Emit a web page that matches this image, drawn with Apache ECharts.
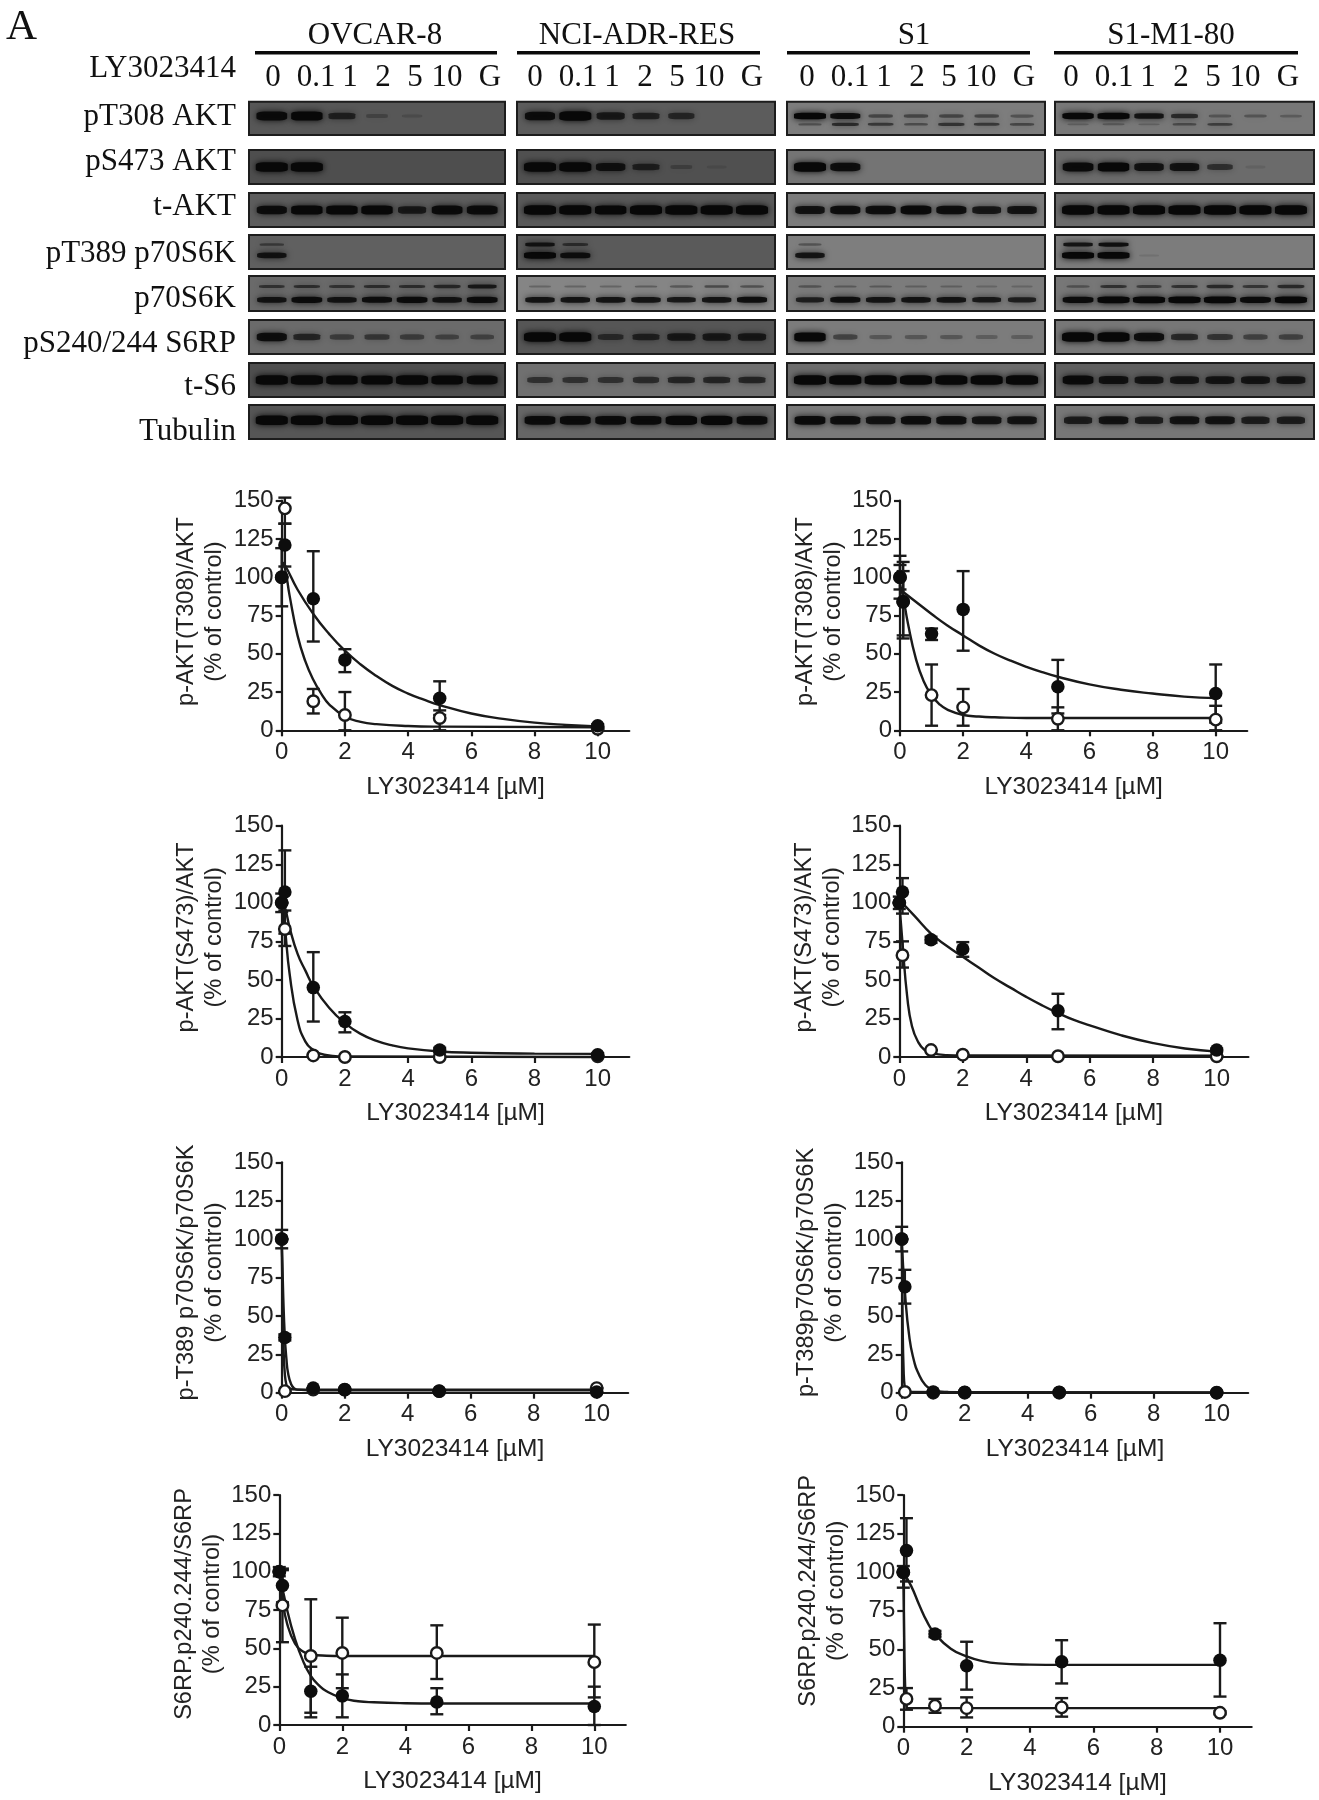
<!DOCTYPE html>
<html>
<head>
<meta charset="utf-8">
<title>LY3023414 blots and dose response</title>
<script src="https://cdn.jsdelivr.net/npm/echarts@6/dist/echarts.min.js"></script>
<style>
  html, body { margin: 0; padding: 0; background: #fff; }
  #chart { width: 1319px; height: 1800px; }
</style>
</head>
<body>
<div id="chart"></div>
<script>
// blot labels
const cellLines = ['OVCAR-8', 'NCI-ADR-RES', 'S1', 'S1-M1-80']
const laneLabels = ['0', '0.1', '1', '2', '5', '10', 'G']
const blotRows = ['pT308 AKT', 'pS473 AKT', 't-AKT', 'pT389 p70S6K', 'p70S6K', 'pS240/244 S6RP', 't-S6', 'Tubulin']

// band darkness per lane, read by eye (0 = no band, 1 = black)
const ovcarBands = [
  [0.9, 0.95, 0.6, 0.2, 0.1, 0, 0],
  [1, 1, 0, 0, 0, 0, 0],
  [0.85, 0.95, 0.95, 0.95, 0.7, 0.9, 0.9],
  [0.8, 0, 0, 0, 0, 0, 0],
  [0.8, 0.9, 0.8, 0.85, 0.9, 0.8, 0.9],
  [0.85, 0.6, 0.4, 0.45, 0.4, 0.35, 0.35],
  [1, 1, 0.95, 0.95, 1, 0.95, 0.9],
  [1, 1, 1, 1, 1, 1, 1]
]
const nciBands = [
  [0.85, 1, 0.7, 0.6, 0.55, 0, 0],
  [1, 1, 0.8, 0.6, 0.2, 0.05, 0],
  [1, 1, 0.95, 1, 1, 1, 1],
  [1, 0.85, 0, 0, 0, 0, 0],
  [0.8, 0.8, 0.8, 0.8, 0.75, 0.8, 0.85],
  [1, 1, 0.5, 0.6, 0.7, 0.7, 0.7],
  [0.5, 0.5, 0.5, 0.55, 0.6, 0.6, 0.6],
  [0.9, 0.9, 0.9, 0.9, 0.95, 0.95, 0.9]
]
const s1Bands = [
  [1, 0.85, 0.4, 0.4, 0.4, 0.4, 0.3],
  [1, 0.85, 0, 0, 0, 0, 0],
  [0.8, 0.85, 0.85, 0.9, 0.85, 0.75, 0.8],
  [0.8, 0, 0, 0, 0, 0, 0],
  [0.7, 0.85, 0.8, 0.8, 0.8, 0.75, 0.7],
  [0.95, 0.4, 0.25, 0.25, 0.25, 0.2, 0.2],
  [1, 1, 1, 1, 1, 1, 1],
  [0.9, 0.85, 0.8, 0.85, 0.85, 0.8, 0.8]
]
const m1Bands = [
  [0.95, 1, 0.8, 0.6, 0.25, 0.25, 0.2],
  [0.9, 0.95, 0.8, 0.8, 0.5, 0.05, 0],
  [1, 1, 1, 1, 1, 1, 1],
  [1, 1, 0.05, 0, 0, 0, 0],
  [0.9, 1, 1, 1, 1, 0.9, 1],
  [1, 1, 0.85, 0.6, 0.5, 0.4, 0.4],
  [0.9, 0.8, 0.75, 0.75, 0.75, 0.75, 0.75],
  [0.7, 0.8, 0.7, 0.8, 0.8, 0.7, 0.7]
]
// second band in the rows that have one: { row index: darkness per lane }
const ovcarExtra = { 3: [0.4, 0, 0, 0, 0, 0, 0], 4: [0.5, 0.55, 0.5, 0.55, 0.55, 0.6, 0.75] }
const nciExtra = { 3: [0.8, 0.5, 0, 0, 0, 0, 0], 4: [0.2, 0.2, 0.2, 0.25, 0.3, 0.4, 0.35] }
const s1Extra = { 0: [0.3, 0.6, 0.5, 0.35, 0.55, 0.5, 0.4], 3: [0.3, 0, 0, 0, 0, 0, 0], 4: [0.3, 0.25, 0.25, 0.2, 0.2, 0.15, 0.15] }
const m1Extra = { 0: [0.15, 0.2, 0.15, 0.35, 0.45, 0, 0], 3: [0.8, 0.85, 0, 0, 0, 0, 0], 4: [0.3, 0.55, 0.45, 0.55, 0.6, 0.5, 0.6] }

// dose response, x positions shared by all points
const doses = [0, 0.1, 1, 2, 5, 10]
const doseTicks = [0, 2, 4, 6, 8, 10]

// panel 1: p-AKT(T308), left
const t308LeftFilled = [100, 121, 86, 46, 21, 3]
const t308LeftFilledHi = [119, 135, 117, 53, 32, 4]
const t308LeftFilledLo = [81, 107, 58, 38, 10, 2]
const t308LeftOpen = [100, 145, 19, 10, 8, 1]
const t308LeftOpenHi = [100, 152, 27, 25, 13, 2]
const t308LeftOpenLo = [100, 135, 11, 0, 0, 0]
const t308LeftFilledFit = [[0, 110], [0.1, 108], [0.5, 92], [1, 76], [1.5, 63], [2, 52], [2.5, 43], [3, 35.5], [3.5, 29], [4, 24], [4.5, 20], [5, 16.5], [6, 11], [7, 7.5], [8, 5], [9, 3.5], [10, 2.5]]
const t308LeftOpenFit = [[0, 110], [0.1, 106], [0.25, 88], [0.5, 62], [0.75, 45], [1, 33], [1.25, 24], [1.5, 17], [2, 9], [2.5, 5.5], [3, 4], [4, 2.8], [5, 2.4], [10, 2]]

// panel 2: p-AKT(T308), right
const t308RightFilled = [100, 84, 63, 79, 28.5, 24]
const t308RightFilledHi = [114, 110, 66.5, 104, 46, 43]
const t308RightFilledLo = [86, 60, 59, 52, 11, 5]
const t308RightOpen = [100, 84, 23, 15, 7.5, 7]
const t308RightOpenHi = [108, 104, 43, 27, 15, 16]
const t308RightOpenLo = [92, 62, 3, 3, 0, 0]
const t308RightFilledFit = [[0, 92], [0.5, 84], [1, 76], [1.5, 68.5], [2, 62], [2.5, 55.5], [3, 50], [3.5, 45.5], [4, 41.5], [4.5, 38], [5, 35], [6, 30], [7, 26.5], [8, 24], [9, 22], [10, 21]]
const t308RightOpenFit = [[0, 95], [0.1, 87], [0.25, 70], [0.5, 47], [0.75, 32], [1, 23], [1.25, 17], [1.5, 13.5], [2, 10], [2.5, 9], [3, 8.5], [4, 8], [5, 8], [10, 8]]

// panel 3: p-AKT(S473), left
const s473LeftFilled = [100, 107, 45, 23, 4.5, 1.5]
const s473LeftFilledHi = [106, 134, 68, 29, 6, 2.5]
const s473LeftFilledLo = [94, 80, 23, 16, 3, 0.5]
const s473LeftOpen = [100, 83, 1, 0, 0, 0.5]
const s473LeftOpenHi = [100, 95, 1, 0, 0, 0.5]
const s473LeftOpenLo = [100, 72, 1, 0, 0, 0.5]
const s473LeftFilledFit = [[0, 100], [0.1, 97], [0.25, 84], [0.5, 67], [0.75, 56], [1, 46], [1.5, 32], [2, 22], [2.5, 15], [3, 10.5], [3.5, 7.5], [4, 5.6], [5, 3.6], [6, 2.8], [8, 2.2], [10, 2]]
const s473LeftOpenFit = [[0, 100], [0.1, 84], [0.25, 54], [0.5, 24], [0.75, 10], [1, 4.5], [1.25, 2], [1.5, 1], [2, 0.3], [10, 0]]

// panel 4: p-AKT(S473), right
const s473RightFilled = [100, 107, 76, 70, 30, 4.5]
const s473RightFilledHi = [104, 116, 78, 74.5, 41, 5.5]
const s473RightFilledLo = [96, 93, 74, 65, 18, 3.5]
const s473RightOpen = [100, 66, 4.5, 1.5, 0.5, 0.5]
const s473RightOpenHi = [100, 75, 4.5, 1.5, 0.5, 0.5]
const s473RightOpenLo = [100, 58, 4.5, 1.5, 0.5, 0.5]
const s473RightFilledFit = [[0, 102], [0.5, 91], [1, 80], [1.5, 72], [2, 65], [2.5, 58], [3, 51], [3.5, 45], [4, 39], [4.5, 33.5], [5, 28.5], [5.5, 24], [6, 20.5], [7, 14], [8, 9], [9, 5.5], [10, 3.5]]
const s473RightOpenFit = [[0, 100], [0.1, 74], [0.25, 39], [0.4, 20], [0.6, 9.5], [0.8, 4.5], [1, 2.5], [1.5, 1.2], [2, 1], [10, 0.8]]

// panel 5: p-T389 p70S6K, left
const t389LeftFilled = [100, 36, 3, 2, 1, 0.5]
const t389LeftFilledHi = [106, 38, 3, 2, 1, 0.5]
const t389LeftFilledLo = [94, 34, 3, 2, 1, 0.5]
const t389LeftOpen = [100, 1, 2, 2, 1, 3]
const t389LeftOpenHi = [100, 1, 2, 2, 1, 3]
const t389LeftOpenLo = [100, 1, 2, 2, 1, 3]
const t389LeftFilledFit = [[0, 100], [0.05, 62], [0.1, 36], [0.15, 22], [0.2, 13], [0.3, 5.5], [0.4, 2.8], [0.5, 2], [1, 1.5], [10, 1.5]]
const t389LeftOpenFit = [[0, 100], [0.03, 55], [0.06, 28], [0.1, 12], [0.15, 5], [0.2, 3], [0.5, 2], [10, 2]]

// panel 6: p-T389 p70S6K, right
const t389RightFilled = [100, 69, 0.5, 0.3, 0.3, 0]
const t389RightFilledHi = [108, 80, 0.5, 0.3, 0.3, 0]
const t389RightFilledLo = [92, 58, 0.5, 0.3, 0.3, 0]
const t389RightOpen = [100, 0.5, 0, 0, 0, 0]
const t389RightOpenHi = [100, 0.5, 0, 0, 0, 0]
const t389RightOpenLo = [100, 0.5, 0, 0, 0, 0]
const t389RightFilledFit = [[0, 100], [0.1, 66], [0.25, 35], [0.4, 20], [0.5, 14], [0.75, 5], [1, 1.8], [1.25, 0.7], [1.5, 0.4], [2, 0.3], [10, 0.2]]
const t389RightOpenFit = [[0, 100], [0.03, 45], [0.06, 15], [0.1, 3], [0.15, 0.5], [10, 0]]

// panel 7: S6RP.p240.244, left
const s6rpLeftFilled = [100, 91, 22, 19, 15, 12]
const s6rpLeftFilledHi = [103, 102, 38, 33, 24, 25]
const s6rpLeftFilledLo = [97, 80, 5, 5, 7, 0]
const s6rpLeftOpen = [100, 78, 45, 47, 47, 41]
const s6rpLeftOpenHi = [100, 101, 82, 70, 65, 65.5]
const s6rpLeftOpenLo = [100, 54, 8, 24, 30, 18]
const s6rpLeftFilledFit = [[0, 100], [0.25, 75], [0.5, 56], [0.75, 42], [1, 32], [1.25, 26], [1.5, 22], [2, 17.5], [2.5, 15.5], [3, 14.8], [4, 14.2], [5, 14], [10, 14]]
const s6rpLeftOpenFit = [[0, 100], [0.1, 82], [0.25, 66], [0.5, 53], [0.75, 48], [1, 46], [1.5, 45.2], [2, 45], [10, 45]]

// panel 8: S6RP.p240.244, right
const s6rpRightFilled = [100, 114, 60, 39.5, 42, 43]
const s6rpRightFilledHi = [104, 135, 62, 55, 56, 67]
const s6rpRightFilledLo = [90, 94, 58, 24, 28, 19.5]
const s6rpRightOpen = [100, 18, 13.5, 12, 12.5, 9]
const s6rpRightOpenHi = [100, 25, 18, 19, 18.5, 10]
const s6rpRightOpenLo = [100, 11, 9, 6, 6.5, 8]
const s6rpRightFilledFit = [[0, 100], [0.25, 91], [0.5, 79], [0.75, 68], [1, 60], [1.5, 50.5], [2, 45.5], [2.5, 42.5], [3, 41], [4, 40.2], [5, 40], [10, 40]]
const s6rpRightOpenFit = [[0, 100], [0.03, 55], [0.06, 25], [0.1, 14], [0.15, 12], [1, 12], [10, 12]]

const panels = [
  { name: 'p-AKT(T308)/AKT', filled: [t308LeftFilled, t308LeftFilledHi, t308LeftFilledLo, t308LeftFilledFit], open: [t308LeftOpen, t308LeftOpenHi, t308LeftOpenLo, t308LeftOpenFit] },
  { name: 'p-AKT(T308)/AKT', filled: [t308RightFilled, t308RightFilledHi, t308RightFilledLo, t308RightFilledFit], open: [t308RightOpen, t308RightOpenHi, t308RightOpenLo, t308RightOpenFit] },
  { name: 'p-AKT(S473)/AKT', filled: [s473LeftFilled, s473LeftFilledHi, s473LeftFilledLo, s473LeftFilledFit], open: [s473LeftOpen, s473LeftOpenHi, s473LeftOpenLo, s473LeftOpenFit] },
  { name: 'p-AKT(S473)/AKT', filled: [s473RightFilled, s473RightFilledHi, s473RightFilledLo, s473RightFilledFit], open: [s473RightOpen, s473RightOpenHi, s473RightOpenLo, s473RightOpenFit] },
  { name: 'p-T389 p70S6K/p70S6K', filled: [t389LeftFilled, t389LeftFilledHi, t389LeftFilledLo, t389LeftFilledFit], open: [t389LeftOpen, t389LeftOpenHi, t389LeftOpenLo, t389LeftOpenFit] },
  { name: 'p-T389p70S6K/p70S6K', filled: [t389RightFilled, t389RightFilledHi, t389RightFilledLo, t389RightFilledFit], open: [t389RightOpen, t389RightOpenHi, t389RightOpenLo, t389RightOpenFit] },
  { name: 'S6RP.p240.244/S6RP', filled: [s6rpLeftFilled, s6rpLeftFilledHi, s6rpLeftFilledLo, s6rpLeftFilledFit], open: [s6rpLeftOpen, s6rpLeftOpenHi, s6rpLeftOpenLo, s6rpLeftOpenFit] },
  { name: 'S6RP.p240.244/S6RP', filled: [s6rpRightFilled, s6rpRightFilledHi, s6rpRightFilledLo, s6rpRightFilledFit], open: [s6rpRightOpen, s6rpRightOpenHi, s6rpRightOpenLo, s6rpRightOpenFit] }
]

// layout, in page pixels
// plot boxes: x of dose 0, x of dose 10, y of 150, y of 0, how far the y title sits above centre
const plotBoxes = [
  [281.7, 597.7, 500.7, 730.3, 4],
  [900, 1215.7, 500.7, 730.3, 4],
  [281.7, 597.7, 825.7, 1057, 4],
  [899.3, 1216.7, 825.7, 1057, 4],
  [281.7, 596.7, 1162.3, 1392.7, 5],
  [901.7, 1216.7, 1162.3, 1392.7, 5],
  [279.3, 594.3, 1495, 1725, 6],
  [903.3, 1220, 1495, 1726.7, 20]
]
const blotX = [[249, 505], [517, 775], [787, 1045], [1055, 1314]]
const blotY = [[101.7, 135], [150, 184], [193, 227], [235, 269], [276, 311], [320, 354], [363, 397], [405, 439]]
const rowLabelY = [117, 162, 207, 254, 299, 344, 387, 432]
const bandY = [0.43, 0.5, 0.5, 0.6, 0.68, 0.5, 0.5, 0.45]
const extraY = { 0: 0.68, 3: 0.28, 4: 0.3 }
const headerBars = [[255, 497], [517, 760], [787, 1030], [1054, 1298]]
const headerX = [375, 637, 914, 1171]
const laneFirstX = [273, 535, 807, 1071]
const laneOffsets = [0, 43, 77, 110, 142, 174, 217]
const blotTones = [
  ['#575757', '#4e4e4e', '#5d5d5d', '#606060', '#6a6a6a', '#6b6b6b', '#4f4f4f', '#565656'],
  ['#5c5c5c', '#505050', '#595959', '#5a5a5a', '#858585', '#565656', '#707070', '#666666'],
  ['#7d7d7d', '#747474', '#7c7c7c', '#7e7e7e', '#7c7c7c', '#7c7c7c', '#6c6c6c', '#7a7a7a'],
  ['#787878', '#6b6b6b', '#6b6b6b', '#7c7c7c', '#777777', '#777777', '#5f5f5f', '#777777']
]

const SANS = '"Liberation Sans", Arial, sans-serif'
const SERIF = '"Liberation Serif", "Times New Roman", serif'
const INK = '#1a1a1a'
const allBands = [ovcarBands, nciBands, s1Bands, m1Bands]
const allExtras = [ovcarExtra, nciExtra, s1Extra, m1Extra]

const grid = []
const xAxis = []
const yAxis = []
const series = []

function bandSeries(axisIndex, values, y, heightScale) {
  return {
    type: 'scatter',
    xAxisIndex: axisIndex,
    yAxisIndex: axisIndex,
    silent: true,
    clip: true,
    symbol: 'roundRect',
    symbolSize: val => [19 + 13 * val[2], (2.5 + 7 * val[2]) * heightScale],
    data: values.map((v, lane) => ({
      value: [lane, y, v],
      itemStyle: {
        opacity: 1,
        color: 'rgba(8,8,8,' + Math.min(1, v + 0.05) + ')',
        shadowColor: 'rgba(8,8,8,' + v + ')',
        shadowBlur: 6
      }
    })).filter(d => d.value[2] > 0)
  }
}

// one small grid per blot panel, lanes on a hidden x axis
cellLines.forEach((line, c) => {
  blotRows.forEach((row, r) => {
    const idx = grid.length
    const extra = allExtras[c][r]
    grid.push({
      left: blotX[c][0],
      width: blotX[c][1] - blotX[c][0],
      top: blotY[r][0],
      height: blotY[r][1] - blotY[r][0],
      show: true,
      backgroundColor: blotTones[c][r],
      borderColor: '#1d1d1d',
      borderWidth: 2
    })
    xAxis.push({ type: 'value', gridIndex: idx, min: -0.65, max: 6.65, show: false })
    yAxis.push({ type: 'value', gridIndex: idx, min: 0, max: 1, inverse: true, show: false })
    series.push(bandSeries(idx, allBands[c][r], bandY[r], extra ? 0.7 : 1))
    if (extra) {
      series.push(bandSeries(idx, extra, extraY[r], 0.5))
    }
  })
})

function errorBars(axisIndex, hi, lo, z) {
  return {
    type: 'custom',
    xAxisIndex: axisIndex,
    yAxisIndex: axisIndex,
    silent: true,
    z: z,
    clip: false,
    data: doses.map((d, i) => [d, lo[i], hi[i]]),
    renderItem: (params, api) => {
      const top = api.coord([api.value(0), api.value(2)])
      const bottom = api.coord([api.value(0), api.value(1)])
      const style = { stroke: INK, lineWidth: 2.4, fill: 'none' }
      const cap = 6.5
      return {
        type: 'group',
        children: [
          { type: 'line', shape: { x1: top[0], y1: top[1], x2: bottom[0], y2: bottom[1] }, style },
          { type: 'line', shape: { x1: top[0] - cap, y1: top[1], x2: top[0] + cap, y2: top[1] }, style },
          { type: 'line', shape: { x1: bottom[0] - cap, y1: bottom[1], x2: bottom[0] + cap, y2: bottom[1] }, style }
        ]
      }
    }
  }
}

function fitLine(axisIndex, points, z) {
  return {
    type: 'line',
    xAxisIndex: axisIndex,
    yAxisIndex: axisIndex,
    silent: true,
    z: z,
    clip: false,
    symbol: 'none',
    smooth: 0.5,
    lineStyle: { color: INK, width: 2.4 },
    data: points
  }
}

function markers(axisIndex, values, isOpen, z) {
  return {
    type: 'scatter',
    xAxisIndex: axisIndex,
    yAxisIndex: axisIndex,
    silent: true,
    z: z,
    clip: false,
    symbol: 'circle',
    symbolSize: isOpen ? 11.5 : 13.5,
    itemStyle: isOpen
      ? { opacity: 1, color: '#fff', borderColor: INK, borderWidth: 2.4 }
      : { opacity: 1, color: '#0d0d0d' },
    data: doses.map((d, i) => [d, values[i]])
  }
}

// dose response plots
panels.forEach((panel, p) => {
  const box = plotBoxes[p]
  const idx = grid.length
  grid.push({
    left: box[0],
    width: (box[1] - box[0]) * 1.1,
    top: box[2],
    height: box[3] - box[2]
  })
  xAxis.push({
    type: 'value',
    gridIndex: idx,
    min: 0,
    max: 11,
    name: 'LY3023414 [µM]',
    nameLocation: 'middle',
    nameGap: 44,
    nameTextStyle: { fontFamily: SANS, fontSize: 24.5, color: '#222' },
    splitLine: { show: false },
    axisLine: { lineStyle: { color: INK, width: 2.2 } },
    axisTick: { length: 6, customValues: doseTicks, lineStyle: { color: INK, width: 2.2 } },
    axisLabel: { customValues: doseTicks, margin: 10, fontFamily: SANS, fontSize: 24, color: '#222' }
  })
  yAxis.push({
    type: 'value',
    gridIndex: idx,
    min: 0,
    max: 150,
    interval: 25,
    name: panel.name + '\n(% of control)',
    nameLocation: 'middle',
    nameGap: 53,
    nameTextStyle: {
      fontFamily: SANS,
      fontSize: 23.6,
      lineHeight: 28,
      color: '#222',
      align: 'center',
      padding: [0, 0, 0, box[4] * 2]
    },
    splitLine: { show: false },
    axisLine: { onZero: false, lineStyle: { color: INK, width: 2.2 } },
    axisTick: { length: 6, lineStyle: { color: INK, width: 2.2 } },
    axisLabel: { margin: 8, fontFamily: SANS, fontSize: 24, color: '#222' }
  })
  series.push(fitLine(idx, panel.open[3], 3))
  series.push(fitLine(idx, panel.filled[3], 3))
  series.push(errorBars(idx, panel.open[1], panel.open[2], 4))
  series.push(errorBars(idx, panel.filled[1], panel.filled[2], 4))
  series.push(markers(idx, panel.open[0], true, 5))
  series.push(markers(idx, panel.filled[0], false, 6))
})

// blot texts and header rules
const graphic = []
function serifText(text, x, y, size, align) {
  graphic.push({
    type: 'text',
    silent: true,
    style: {
      text: text,
      x: x,
      y: y,
      fill: '#111',
      font: size + 'px ' + SERIF,
      textAlign: align,
      textVerticalAlign: 'middle'
    }
  })
}
serifText('A', 6, 28, 43, 'left')
serifText('LY3023414', 236, 69, 31, 'right')
blotRows.forEach((row, r) => serifText(row, 236, rowLabelY[r], 31, 'right'))
cellLines.forEach((line, c) => {
  serifText(line, headerX[c], 35.5, 31, 'center')
  graphic.push({
    type: 'rect',
    silent: true,
    shape: { x: headerBars[c][0], y: 51, width: headerBars[c][1] - headerBars[c][0], height: 3.5 },
    style: { fill: '#0a0a0a' }
  })
  laneLabels.forEach((lane, i) => serifText(lane, laneFirstX[c] + laneOffsets[i], 78, 31, 'center'))
})

const chart = echarts.init(document.getElementById('chart'))
chart.setOption({
  animation: false,
  backgroundColor: '#fff',
  tooltip: { show: false },
  grid: grid,
  xAxis: xAxis,
  yAxis: yAxis,
  series: series,
  graphic: graphic
})
</script>
</body>
</html>
